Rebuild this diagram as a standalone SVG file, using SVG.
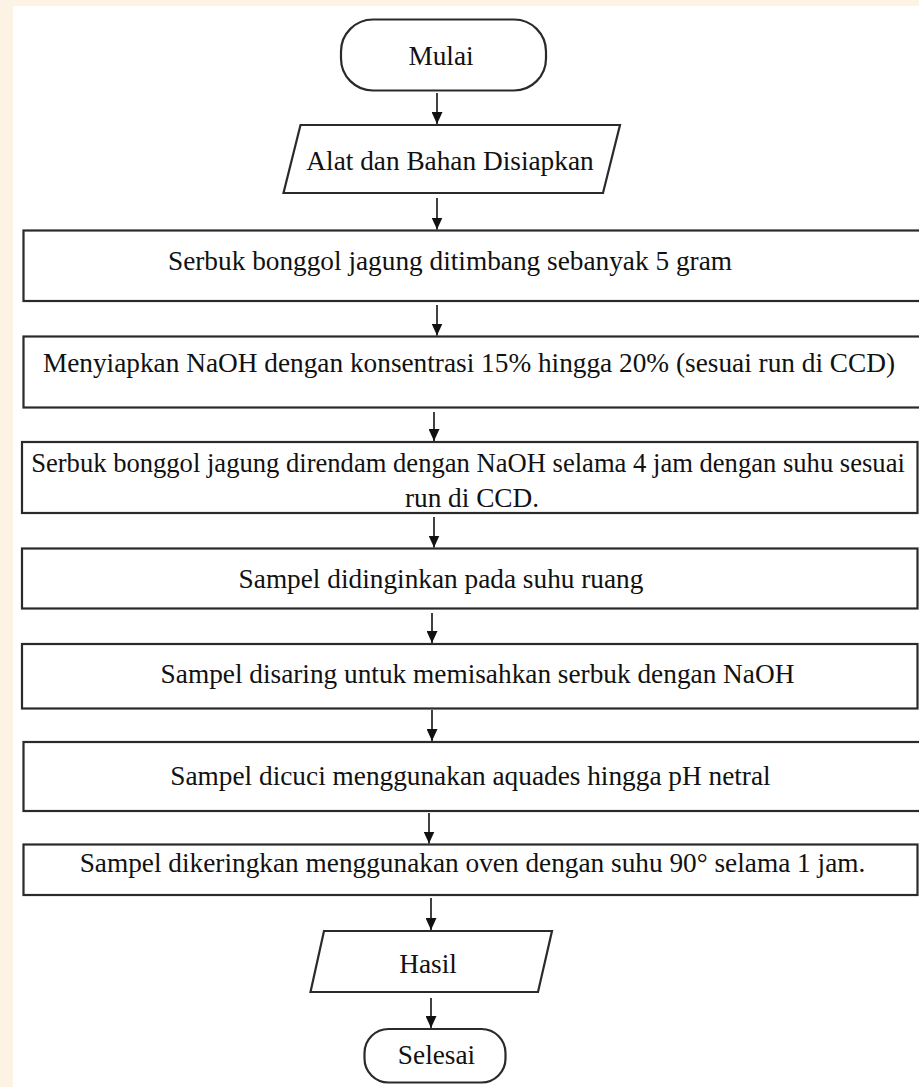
<svg xmlns="http://www.w3.org/2000/svg" width="919" height="1087" viewBox="0 0 919 1087">
<style>
.shape{fill:#ffffff;stroke:#2a2a2a;stroke-width:2.2}
.lbl{font-family:"Liberation Serif","Times New Roman",serif;font-size:27.3px;fill:#111111;text-anchor:middle}
.conn{stroke:#111111;stroke-width:1.6;fill:none;marker-end:url(#ah)}
</style>
<defs>
<marker id="ah" markerUnits="userSpaceOnUse" markerWidth="13" markerHeight="11" refX="12" refY="5.5" orient="auto">
<path d="M0,0 L12,5.5 L0,11 z" fill="#111111"/>
</marker>
</defs>
<rect x="0" y="0" width="919" height="1087" fill="#fdf3e4"/>
<rect x="13" y="6" width="906" height="1081" fill="#ffffff"/>
<g id="n-mulai">
<rect class="shape" x="341" y="19.5" width="205" height="71" rx="32" ry="32"/>
<text class="lbl" x="441" y="65">Mulai</text>
</g>
<g id="n-alat">
<polygon class="shape" points="300.5,125 620,125 603,193 283.5,193"/>
<text class="lbl" x="450" y="170">Alat dan Bahan Disiapkan</text>
</g>
<g id="n-timbang">
<rect class="shape" x="23.5" y="230.5" width="905" height="70.5"/>
<text class="lbl" x="450" y="270">Serbuk bonggol jagung ditimbang sebanyak 5 gram</text>
</g>
<g id="n-naoh">
<rect class="shape" x="23.5" y="336.5" width="905" height="71"/>
<text class="lbl" x="469" y="372">Menyiapkan NaOH dengan konsentrasi 15% hingga 20% (sesuai run di CCD)</text>
</g>
<g id="n-rendam">
<rect class="shape" x="22" y="442" width="895.5" height="71"/>
<text class="lbl" x="468" y="472" style="font-size:26.6px">Serbuk bonggol jagung direndam dengan NaOH selama 4 jam dengan suhu sesuai</text>
<text class="lbl" x="472" y="507">run di CCD.</text>
</g>
<g id="n-dingin">
<rect class="shape" x="22" y="548.5" width="895.5" height="60"/>
<text class="lbl" x="441" y="588">Sampel didinginkan pada suhu ruang</text>
</g>
<g id="n-saring">
<rect class="shape" x="22" y="644" width="895.5" height="64.5"/>
<text class="lbl" x="477.5" y="683">Sampel disaring untuk memisahkan serbuk dengan NaOH</text>
</g>
<g id="n-cuci">
<rect class="shape" x="23.5" y="742" width="905" height="69"/>
<text class="lbl" x="470.5" y="785">Sampel dicuci menggunakan aquades hingga pH netral</text>
</g>
<g id="n-kering">
<rect class="shape" x="23.5" y="844.5" width="894" height="50.5"/>
<text class="lbl" x="472.5" y="872">Sampel dikeringkan menggunakan oven dengan suhu 90° selama 1 jam.</text>
</g>
<g id="n-hasil">
<polygon class="shape" points="324,931 552,931 538,992 310.5,992"/>
<text class="lbl" x="428" y="973">Hasil</text>
</g>
<g id="n-selesai">
<rect class="shape" x="364.5" y="1029" width="141" height="53.5" rx="24" ry="24"/>
<text class="lbl" x="436.5" y="1064">Selesai</text>
</g>
<g id="connectors">
<line class="conn" x1="437" y1="93" x2="437" y2="124"/>
<line class="conn" x1="437" y1="198" x2="437" y2="229.5"/>
<line class="conn" x1="437" y1="305" x2="437" y2="335.5"/>
<line class="conn" x1="434" y1="412" x2="434" y2="441"/>
<line class="conn" x1="434" y1="517" x2="434" y2="547.5"/>
<line class="conn" x1="432" y1="613" x2="432" y2="643"/>
<line class="conn" x1="432" y1="710" x2="432" y2="741"/>
<line class="conn" x1="429" y1="813" x2="429" y2="843.5"/>
<line class="conn" x1="431" y1="898" x2="431" y2="930"/>
<line class="conn" x1="431" y1="998" x2="431" y2="1028"/>
</g>
</svg>
